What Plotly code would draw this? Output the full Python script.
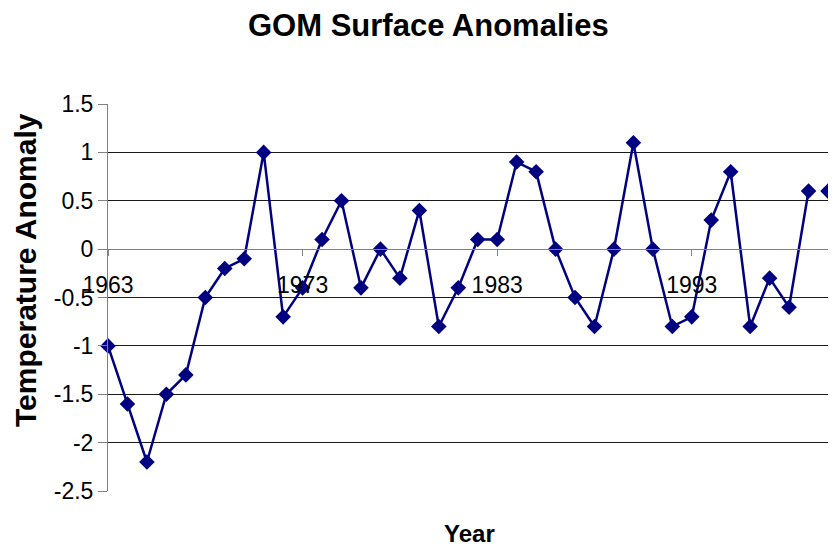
import plotly.graph_objects as go

years = list(range(1963, 2001))
anomaly = [-1.0, -1.6, -2.2, -1.5, -1.3, -0.5, -0.2, -0.1, 1.0, -0.7,
           -0.4, 0.1, 0.5, -0.4, 0.0, -0.3, 0.4, -0.8, -0.4, 0.1,
           0.1, 0.9, 0.8, 0.0, -0.5, -0.8, 0.0, 1.1, 0.0, -0.8,
           -0.7, 0.3, 0.8, -0.8, -0.3, -0.6, 0.6, 0.6]
x_ticks = [1963, 1973, 1983, 1993]
y_ticks = [1.5, 1, 0.5, 0, -0.5, -1, -1.5, -2, -2.5]
y_tick_text = ["1.5", "1", "0.5", "0", "-0.5", "-1", "-1.5", "-2", "-2.5"]

navy = "#000080"
font = "Liberation Sans, Arial, sans-serif"

fig = go.Figure()
# connected line (the final year is shown as an unconnected marker in the original)
fig.add_trace(go.Scatter(x=years[:-1], y=anomaly[:-1], mode="lines",
                         line=dict(color=navy, width=2.5), cliponaxis=False,
                         hoverinfo="skip", showlegend=False))
fig.add_trace(go.Scatter(x=years, y=anomaly, mode="markers",
                         marker=dict(symbol="diamond", size=12, color=navy),
                         cliponaxis=False, showlegend=False))

# page body has an 8px default margin, so the figure is offset by 8px
OFF = 8
W, H = 836 - OFF, 548 - OFF
PL, PR, PT, PB = 108, 828, 104, 491   # plot area in window pixels
L, T = PL - OFF, PT - OFF
R = W - (PR - OFF)
B = H - (PB - OFF)
pw, ph = PR - PL, PB - PT

def px(p):
    return (p - PL) / pw

def py(q):
    return (PB - q) / ph

fig.update_layout(
    width=W, height=H,
    margin=dict(l=L, r=R, t=T, b=B, autoexpand=False),
    plot_bgcolor="white", paper_bgcolor="white",
    font=dict(family=font, size=23, color="black"),
    xaxis=dict(range=[1963, 2000], tickvals=x_ticks, ticktext=[str(v) for v in x_ticks],
               anchor="free", position=2.5 / 4.0, automargin=False,
               showline=True, linecolor="#808080", linewidth=1,
               ticks="outside", ticklen=6, tickcolor="#808080",
               ticklabelstandoff=9,
               showgrid=False, zeroline=False,
               tickfont=dict(size=23)),
    yaxis=dict(range=[-2.5, 1.5], tickvals=y_ticks, ticktext=y_tick_text,
               automargin=False,
               showline=True, linecolor="#808080", linewidth=1,
               ticks="outside", ticklen=9, tickcolor="#808080",
               showgrid=True, gridcolor="#1a1a1a", gridwidth=1,
               zeroline=False, tickfont=dict(size=23)),
    annotations=[
        dict(text="<b>GOM Surface Anomalies</b>", x=px(428), y=py(25),
             xref="paper", yref="paper", showarrow=False, borderpad=0,
             xanchor="center", yanchor="middle", font=dict(size=31)),
        dict(text="<b>Year</b>", x=px(469), y=py(533),
             xref="paper", yref="paper", showarrow=False, borderpad=0,
             xanchor="center", yanchor="middle", font=dict(size=24)),
        dict(text="<b>Temperature Anomaly</b>", x=px(25), y=py(270),
             xref="paper", yref="paper", showarrow=False, textangle=-90,
             borderpad=0,
             xanchor="center", yanchor="middle", font=dict(size=30)),
    ],
)

fig.write_html("out.html")
